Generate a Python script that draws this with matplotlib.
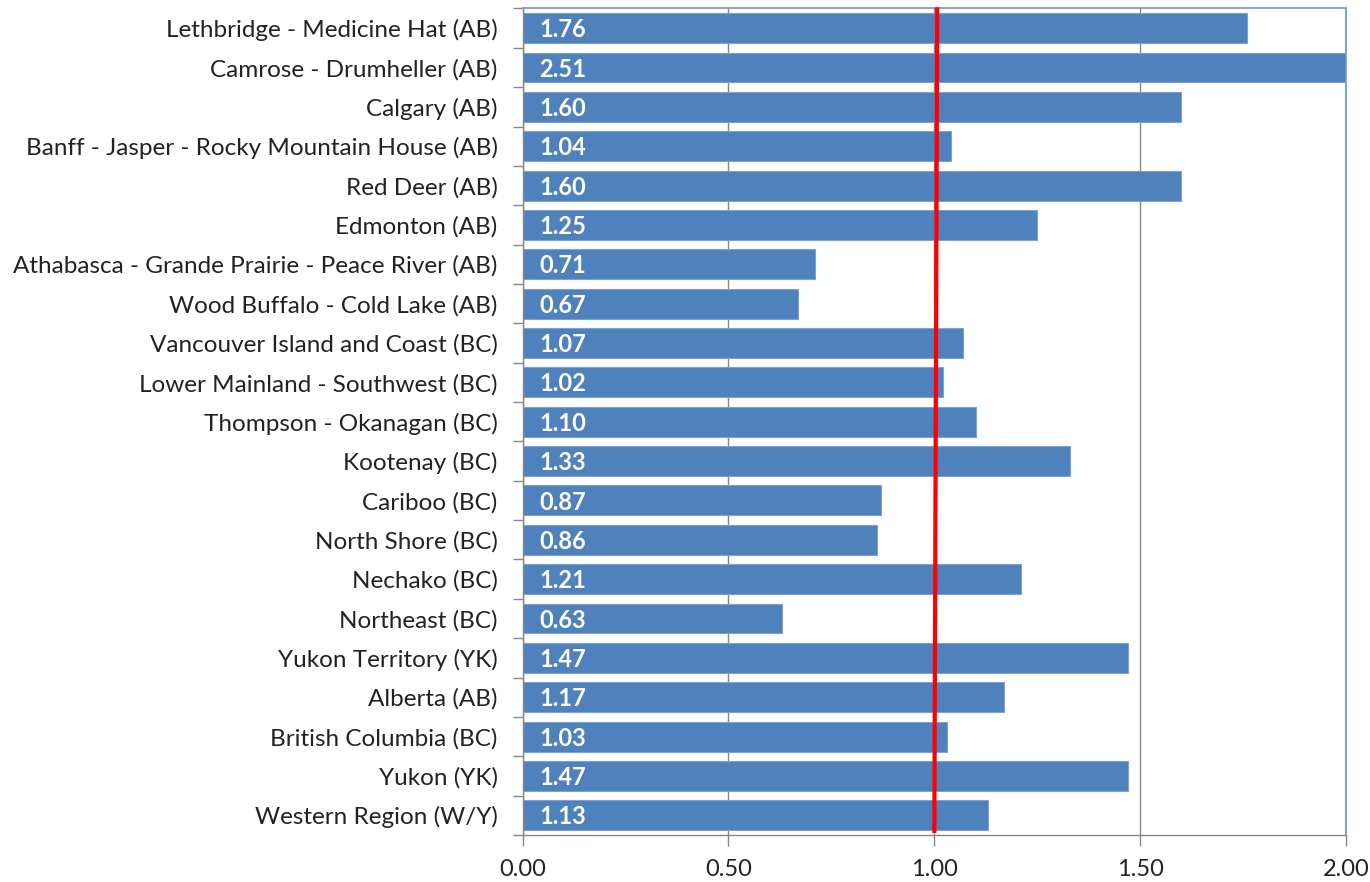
import numpy as np
import matplotlib.pyplot as plt
from matplotlib.ticker import FixedLocator

regions = [
    "Lethbridge - Medicine Hat (AB)",
    "Camrose - Drumheller (AB)",
    "Calgary (AB)",
    "Banff - Jasper - Rocky Mountain House (AB)",
    "Red Deer (AB)",
    "Edmonton (AB)",
    "Athabasca - Grande Prairie - Peace River (AB)",
    "Wood Buffalo - Cold Lake (AB)",
    "Vancouver Island and Coast (BC)",
    "Lower Mainland - Southwest (BC)",
    "Thompson - Okanagan (BC)",
    "Kootenay (BC)",
    "Cariboo (BC)",
    "North Shore (BC)",
    "Nechako (BC)",
    "Northeast (BC)",
    "Yukon Territory (YK)",
    "Alberta (AB)",
    "British Columbia (BC)",
    "Yukon (YK)",
    "Western Region (W/Y)",
]
ratios = [1.76, 2.51, 1.60, 1.04, 1.60, 1.25, 0.71, 0.67, 1.07, 1.02, 1.10,
          1.33, 0.87, 0.86, 1.21, 0.63, 1.47, 1.17, 1.03, 1.47, 1.13]
x_ticks = [0.0, 0.5, 1.0, 1.5, 2.0]
reference_value = 1.0

plt.rcParams['font.family'] = ['Lato', 'DejaVu Sans']

fig = plt.figure(figsize=(13.7, 8.82), dpi=100)
ax = fig.add_axes([0.3815, 0.0533, 0.6010, 0.9371])

bar_color = "#4F81BD"
grid_color = "#868686"

y = np.arange(len(regions))
ax.barh(y, ratios, height=0.76, color=bar_color, edgecolor="#7FA1CF",
        linewidth=0.8, zorder=2)

for yi, v in zip(y, ratios):
    ax.text(0.04, yi + 0.04, f"{v:.2f}", color="white", fontsize=17,
            fontweight="bold", va="center", ha="left", zorder=4)

ax.set_xlim(0, 2.0)
ax.set_ylim(len(regions) - 0.5, -0.5)

# Reference line at a ratio of 1.0
ax.plot([reference_value + 0.007, reference_value], [-0.53, len(regions) - 0.55],
        color="red", linewidth=3, zorder=5, clip_on=False, solid_capstyle="butt")

ax.set_xticks(x_ticks)
ax.set_xticklabels([f"{t:.2f}" for t in x_ticks], fontsize=17, color="#222222")
ax.xaxis.grid(True, color=grid_color, linewidth=1, zorder=0)
ax.set_axisbelow(True)

ax.set_yticks(y)
ax.set_yticklabels(regions, fontsize=17.5, color="#222222")
ax.yaxis.set_minor_locator(FixedLocator(np.arange(-0.5, len(regions), 1.0)))
ax.tick_params(axis="y", which="major", length=0, pad=18)
ax.tick_params(axis="y", which="minor", length=7, width=1, color=grid_color)
ax.tick_params(axis="x", which="major", length=8, width=1, color=grid_color, pad=9)

for side in ("left", "bottom"):
    ax.spines[side].set_color(grid_color)
    ax.spines[side].set_linewidth(1)
for side in ("top", "right"):
    ax.spines[side].set_color("#6F97CC")
    ax.spines[side].set_linewidth(1.2)

fig.savefig("out.png", dpi=100)
